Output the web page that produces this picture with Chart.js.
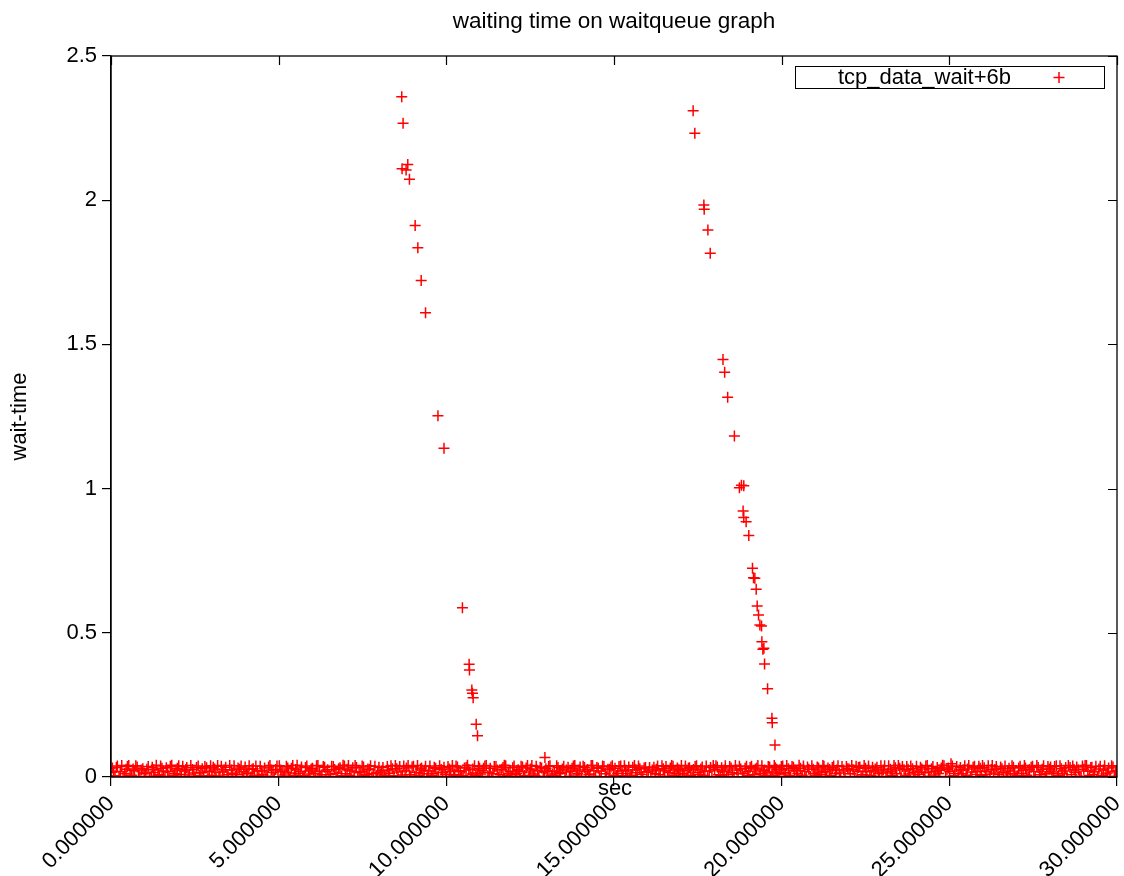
<!DOCTYPE html>
<html>
<head>
<meta charset="utf-8">
<script src="https://cdn.jsdelivr.net/npm/chart.js@4.4.1/dist/chart.umd.min.js"></script>
<style>
  html, body { margin: 0; padding: 0; background: #ffffff; }
  #wrap { width: 1124px; height: 876px; }
</style>
</head>
<body>
<div id="wrap"><canvas id="c" width="1124" height="876"></canvas></div>
<script>
// Waiting time samples of tcp_data_wait+6b on the wait queue (seconds vs wait-time)

const seriesLabel = 'tcp_data_wait+6b';
const chartTitle = 'waiting time on waitqueue graph';
const xAxisTitle = 'sec';
const yAxisTitle = 'wait-time';

const xTicks = [0, 5, 10, 15, 20, 25, 30];
const yTicks = [0, 0.5, 1, 1.5, 2, 2.5];

// First burst of long waits
const burst1Sec = [8.67, 8.71, 8.85, 8.68, 8.80, 8.90, 9.07, 9.15, 9.25, 9.38, 9.75, 9.93,
  10.48, 10.68, 10.69, 10.76, 10.78, 10.80, 10.89, 10.93];
const burst1Wait = [2.359, 2.267, 2.124, 2.109, 2.105, 2.073, 1.912, 1.835, 1.722, 1.610, 1.253, 1.140,
  0.587, 0.391, 0.371, 0.302, 0.290, 0.275, 0.183, 0.143];

// Second burst of long waits
const burst2Sec = [17.36, 17.41, 17.68, 17.69, 17.80, 17.87, 18.25, 18.30, 18.39, 18.59,
  18.80, 18.74, 18.87, 18.85, 18.87, 18.94, 19.02, 19.13, 19.16, 19.20, 19.24, 19.27,
  19.31, 19.35, 19.40, 19.41, 19.44, 19.47, 19.49, 19.58, 19.71, 19.72, 19.80];
const burst2Wait = [2.310, 2.232, 1.983, 1.969, 1.897, 1.816, 1.448, 1.403, 1.317, 1.182,
  1.012, 1.003, 1.010, 0.922, 0.900, 0.885, 0.837, 0.724, 0.691, 0.689, 0.651, 0.593,
  0.562, 0.527, 0.524, 0.469, 0.443, 0.446, 0.392, 0.306, 0.204, 0.188, 0.111];

// Isolated small waits slightly above the floor
const straySec = [12.94];
const strayWait = [0.068];

// Short waits that form the band along zero (first pass)
const floorSec = [
  0.04, 0.12, 0.19, 0.28, 0.36, 0.45, 0.53, 0.61, 0.70, 0.78, 0.86, 0.95,
  1.03, 1.11, 1.20, 1.27, 1.35, 1.44, 1.52, 1.61, 1.69, 1.77, 1.86, 1.94,
  2.02, 2.10, 2.19, 2.26, 2.34, 2.43, 2.51, 2.60, 2.68, 2.76, 2.85, 2.93,
  3.01, 3.09, 3.18, 3.25, 3.33, 3.42, 3.50, 3.59, 3.67, 3.75, 3.84, 3.92,
  4.00, 4.08, 4.17, 4.24, 4.32, 4.41, 4.49, 4.58, 4.66, 4.74, 4.83, 4.91, 4.98,
  5.06, 5.14, 5.23, 5.30, 5.38, 5.47, 5.55, 5.64, 5.72, 5.80, 5.89, 5.97,
  6.05, 6.13, 6.22, 6.29, 6.37, 6.46, 6.54, 6.63, 6.71, 6.79, 6.88, 6.96,
  7.04, 7.12, 7.21, 7.28, 7.36, 7.45, 7.53, 7.62, 7.70, 7.78, 7.87, 7.95,
  8.03, 8.11, 8.20, 8.27, 8.35, 8.44, 8.52, 8.61, 8.69, 8.77, 8.86, 8.94,
  9.02, 9.10, 9.19, 9.26, 9.34, 9.43, 9.51, 9.60, 9.68, 9.76, 9.85, 9.93,
  10.01, 10.09, 10.18, 10.25, 10.33, 10.42, 10.50, 10.59, 10.67, 10.75, 10.84, 10.92, 10.99,
  11.07, 11.15, 11.24, 11.31, 11.39, 11.48, 11.56, 11.65, 11.73, 11.81, 11.90, 11.98,
  12.06, 12.14, 12.23, 12.30, 12.38, 12.47, 12.55, 12.64, 12.72, 12.80, 12.89, 12.97,
  13.05, 13.13, 13.22, 13.29, 13.37, 13.46, 13.54, 13.63, 13.71, 13.79, 13.88, 13.96,
  14.04, 14.12, 14.21, 14.28, 14.36, 14.45, 14.53, 14.62, 14.70, 14.78, 14.87, 14.95,
  15.03, 15.11, 15.20, 15.27, 15.35, 15.44, 15.52, 15.61, 15.69, 15.77, 15.86, 15.94,
  16.02, 16.10, 16.19, 16.26, 16.34, 16.43, 16.51, 16.60, 16.68, 16.76, 16.85, 16.93,
  17.01, 17.09, 17.18, 17.25, 17.33, 17.42, 17.50, 17.59, 17.67, 17.75, 17.84, 17.92,
  18.00, 18.08, 18.17, 18.24, 18.32, 18.41, 18.49, 18.58, 18.66, 18.74, 18.83, 18.91, 18.98,
  19.06, 19.14, 19.22, 19.29, 19.37, 19.45, 19.52, 19.60, 19.67, 19.74, 19.81, 19.88, 19.95,
  20.03, 20.11, 20.20, 20.27, 20.35, 20.44, 20.52, 20.61, 20.69, 20.77, 20.86, 20.94,
  21.02, 21.10, 21.19, 21.26, 21.34, 21.43, 21.51, 21.60, 21.68, 21.76, 21.85, 21.93,
  22.01, 22.09, 22.18, 22.25, 22.33, 22.42, 22.50, 22.59, 22.67, 22.75, 22.84, 22.92, 22.99,
  23.07, 23.15, 23.24, 23.31, 23.39, 23.48, 23.56, 23.65, 23.73, 23.81, 23.90, 23.98,
  24.06, 24.14, 24.23, 24.30, 24.38, 24.47, 24.55, 24.64, 24.72, 24.80, 24.89, 24.97,
  25.05, 25.13, 25.22, 25.29, 25.37, 25.46, 25.54, 25.63, 25.71, 25.79, 25.88, 25.96,
  26.04, 26.12, 26.21, 26.28, 26.36, 26.45, 26.53, 26.62, 26.70, 26.78, 26.87, 26.95,
  27.03, 27.11, 27.20, 27.27, 27.35, 27.44, 27.52, 27.61, 27.69, 27.77, 27.86, 27.94,
  28.02, 28.10, 28.19, 28.26, 28.34, 28.43, 28.51, 28.60, 28.68, 28.76, 28.85, 28.93,
  29.01, 29.09, 29.18, 29.25, 29.33, 29.42, 29.50, 29.59, 29.67, 29.75, 29.84, 29.92, 29.98
];
const floorWait = [
  0.031, 0.004, 0.038, 0.019, 0.002, 0.027, 0.040, 0.006, 0.022, 0.035, 0.001, 0.029,
  0.012, 0.036, 0.003, 0.025, 0.041, 0.008, 0.030, 0.000, 0.018, 0.037, 0.005, 0.024,
  0.039, 0.002, 0.021, 0.033, 0.007, 0.026, 0.000, 0.038, 0.015, 0.004, 0.032, 0.020,
  0.006, 0.028, 0.040, 0.003, 0.017, 0.034, 0.001, 0.024, 0.039, 0.009, 0.027, 0.002,
  0.035, 0.011, 0.000, 0.029, 0.038, 0.005, 0.022, 0.031, 0.003, 0.040, 0.016, 0.026, 0.001,
  0.024, 0.002, 0.037, 0.014, 0.030, 0.006, 0.041, 0.019, 0.000, 0.033, 0.010, 0.028,
  0.003, 0.039, 0.020, 0.008, 0.034, 0.025, 0.001, 0.036, 0.013, 0.029, 0.004, 0.038,
  0.027, 0.006, 0.032, 0.040, 0.002, 0.018, 0.035, 0.009, 0.026, 0.000, 0.037, 0.015,
  0.010, 0.033, 0.001, 0.024, 0.039, 0.004, 0.029, 0.036, 0.007, 0.021, 0.040, 0.002,
  0.037, 0.016, 0.005, 0.031, 0.023, 0.000, 0.038, 0.012, 0.030, 0.003, 0.026, 0.034,
  0.001, 0.028, 0.040, 0.009, 0.035, 0.019, 0.004, 0.033, 0.025, 0.000, 0.039, 0.014, 0.030,
  0.022, 0.038, 0.003, 0.030, 0.011, 0.036, 0.000, 0.027, 0.041, 0.006, 0.020, 0.032,
  0.008, 0.025, 0.037, 0.001, 0.031, 0.017, 0.040, 0.004, 0.023, 0.034, 0.002, 0.029,
  0.036, 0.005, 0.020, 0.039, 0.012, 0.028, 0.000, 0.034, 0.019, 0.038, 0.007, 0.024,
  0.002, 0.033, 0.026, 0.010, 0.040, 0.003, 0.030, 0.021, 0.036, 0.001, 0.027, 0.039,
  0.030, 0.013, 0.038, 0.004, 0.024, 0.035, 0.006, 0.040, 0.015, 0.029, 0.000, 0.033,
  0.019, 0.001, 0.034, 0.027, 0.008, 0.039, 0.022, 0.003, 0.031, 0.037, 0.011, 0.025,
  0.040, 0.007, 0.023, 0.032, 0.000, 0.036, 0.016, 0.028, 0.005, 0.038, 0.021, 0.002,
  0.026, 0.035, 0.004, 0.018, 0.039, 0.009, 0.031, 0.001, 0.024, 0.037, 0.013, 0.030, 0.006,
  0.033, 0.002, 0.028, 0.040, 0.011, 0.021, 0.004, 0.036, 0.000, 0.017, 0.032, 0.003, 0.025,
  0.038, 0.010, 0.029, 0.000, 0.034, 0.022, 0.041, 0.006, 0.019, 0.035, 0.002, 0.027,
  0.005, 0.031, 0.016, 0.037, 0.003, 0.026, 0.033, 0.012, 0.039, 0.001, 0.024, 0.036,
  0.028, 0.040, 0.002, 0.020, 0.035, 0.008, 0.030, 0.038, 0.004, 0.022, 0.034, 0.000, 0.017,
  0.039, 0.014, 0.027, 0.005, 0.032, 0.040, 0.001, 0.025, 0.036, 0.010, 0.029, 0.003,
  0.021, 0.034, 0.000, 0.038, 0.017, 0.029, 0.007, 0.033, 0.023, 0.041, 0.002, 0.031,
  0.046, 0.004, 0.036, 0.024, 0.011, 0.039, 0.028, 0.000, 0.034, 0.018, 0.037, 0.006,
  0.032, 0.020, 0.001, 0.040, 0.026, 0.009, 0.035, 0.015, 0.003, 0.030, 0.039, 0.012,
  0.004, 0.037, 0.023, 0.031, 0.000, 0.034, 0.019, 0.040, 0.008, 0.027, 0.002, 0.036,
  0.035, 0.012, 0.039, 0.006, 0.029, 0.021, 0.001, 0.033, 0.038, 0.016, 0.025, 0.003,
  0.027, 0.040, 0.005, 0.034, 0.018, 0.002, 0.037, 0.024, 0.010, 0.031, 0.039, 0.001, 0.022
];

// Short waits along zero (second pass, interleaved with the first)
const floor2Sec = [
  0.08, 0.16, 0.24, 0.32, 0.41, 0.49, 0.57, 0.66, 0.74, 0.82, 0.91, 0.99,
  1.07, 1.15, 1.23, 1.31, 1.40, 1.48, 1.56, 1.65, 1.73, 1.81, 1.90, 1.98,
  2.06, 2.14, 2.23, 2.30, 2.38, 2.47, 2.55, 2.64, 2.72, 2.80, 2.89, 2.97,
  3.05, 3.13, 3.22, 3.29, 3.37, 3.46, 3.54, 3.63, 3.71, 3.79, 3.88, 3.96,
  4.04, 4.12, 4.21, 4.28, 4.36, 4.45, 4.53, 4.62, 4.70, 4.78, 4.87, 4.95,
  5.02, 5.10, 5.18, 5.27, 5.34, 5.42, 5.51, 5.59, 5.68, 5.76, 5.84, 5.93,
  6.01, 6.09, 6.17, 6.26, 6.33, 6.41, 6.50, 6.58, 6.67, 6.75, 6.83, 6.92, 6.99,
  7.08, 7.16, 7.25, 7.32, 7.40, 7.49, 7.57, 7.66, 7.74, 7.82, 7.91, 7.99,
  8.07, 8.15, 8.24, 8.31, 8.39, 8.48, 8.56, 8.65, 8.73, 8.81, 8.90, 8.98,
  9.06, 9.14, 9.23, 9.30, 9.38, 9.47, 9.55, 9.64, 9.72, 9.80, 9.89, 9.97,
  10.05, 10.13, 10.22, 10.29, 10.37, 10.46, 10.54, 10.63, 10.71, 10.79, 10.88, 10.96,
  11.03, 11.11, 11.19, 11.28, 11.35, 11.43, 11.52, 11.60, 11.69, 11.77, 11.85, 11.94,
  12.02, 12.10, 12.18, 12.27, 12.34, 12.42, 12.51, 12.59, 12.68, 12.76, 12.84, 12.93,
  13.01, 13.09, 13.17, 13.26, 13.33, 13.41, 13.50, 13.58, 13.67, 13.75, 13.83, 13.92, 13.99,
  14.08, 14.16, 14.25, 14.32, 14.40, 14.49, 14.57, 14.66, 14.74, 14.82, 14.91, 14.99,
  15.07, 15.15, 15.24, 15.31, 15.39, 15.48, 15.56, 15.65, 15.73, 15.81, 15.90, 15.98,
  16.06, 16.14, 16.23, 16.30, 16.38, 16.47, 16.55, 16.64, 16.72, 16.80, 16.89, 16.97,
  17.05, 17.13, 17.22, 17.29, 17.37, 17.46, 17.54, 17.63, 17.71, 17.79, 17.88, 17.96,
  18.04, 18.12, 18.21, 18.28, 18.36, 18.45, 18.53, 18.62, 18.70, 18.78, 18.87, 18.95,
  19.02, 19.10, 19.18, 19.26, 19.33, 19.41, 19.49, 19.56, 19.64, 19.71, 19.78, 19.85, 19.92, 19.99,
  20.07, 20.15, 20.24, 20.31, 20.39, 20.48, 20.56, 20.65, 20.73, 20.81, 20.90, 20.98,
  21.06, 21.14, 21.23, 21.30, 21.38, 21.47, 21.55, 21.64, 21.72, 21.80, 21.89, 21.97,
  22.05, 22.13, 22.22, 22.29, 22.37, 22.46, 22.54, 22.63, 22.71, 22.79, 22.88, 22.96,
  23.03, 23.11, 23.19, 23.28, 23.35, 23.43, 23.52, 23.60, 23.69, 23.77, 23.85, 23.94,
  24.02, 24.10, 24.18, 24.27, 24.34, 24.42, 24.51, 24.59, 24.68, 24.76, 24.84, 24.93,
  25.01, 25.09, 25.17, 25.26, 25.33, 25.41, 25.50, 25.58, 25.67, 25.75, 25.83, 25.92, 25.99,
  26.08, 26.16, 26.25, 26.32, 26.40, 26.49, 26.57, 26.66, 26.74, 26.82, 26.91, 26.99,
  27.07, 27.15, 27.24, 27.31, 27.39, 27.48, 27.56, 27.65, 27.73, 27.81, 27.90, 27.98,
  28.06, 28.14, 28.23, 28.30, 28.38, 28.47, 28.55, 28.64, 28.72, 28.80, 28.89, 28.97,
  29.05, 29.13, 29.22, 29.29, 29.37, 29.46, 29.54, 29.63, 29.71, 29.79, 29.88, 29.95
];
const floor2Wait = [
  0.018, 0.033, 0.001, 0.040, 0.012, 0.036, 0.005, 0.028, 0.039, 0.002, 0.024, 0.014,
  0.027, 0.000, 0.034, 0.016, 0.006, 0.038, 0.021, 0.032, 0.003, 0.041, 0.011, 0.030,
  0.009, 0.037, 0.026, 0.001, 0.040, 0.014, 0.033, 0.005, 0.029, 0.036, 0.000, 0.039,
  0.034, 0.016, 0.003, 0.037, 0.025, 0.008, 0.040, 0.013, 0.002, 0.031, 0.038, 0.019,
  0.014, 0.039, 0.027, 0.005, 0.021, 0.037, 0.009, 0.002, 0.035, 0.024, 0.000, 0.038,
  0.039, 0.018, 0.007, 0.031, 0.001, 0.040, 0.026, 0.012, 0.035, 0.004, 0.038, 0.021,
  0.030, 0.013, 0.040, 0.002, 0.036, 0.019, 0.008, 0.037, 0.026, 0.001, 0.032, 0.041, 0.011,
  0.040, 0.021, 0.002, 0.033, 0.015, 0.038, 0.006, 0.028, 0.039, 0.012, 0.003, 0.034,
  0.022, 0.005, 0.036, 0.013, 0.029, 0.040, 0.017, 0.002, 0.038, 0.031, 0.008, 0.035,
  0.003, 0.040, 0.028, 0.011, 0.037, 0.021, 0.006, 0.034, 0.001, 0.039, 0.016, 0.009,
  0.036, 0.019, 0.005, 0.038, 0.022, 0.002, 0.031, 0.041, 0.010, 0.028, 0.006, 0.037,
  0.010, 0.030, 0.040, 0.016, 0.001, 0.036, 0.024, 0.008, 0.033, 0.039, 0.013, 0.003,
  0.038, 0.013, 0.020, 0.035, 0.005, 0.040, 0.028, 0.010, 0.037, 0.002, 0.031, 0.017,
  0.021, 0.039, 0.010, 0.004, 0.033, 0.016, 0.037, 0.024, 0.003, 0.030, 0.040, 0.012, 0.035,
  0.037, 0.019, 0.008, 0.040, 0.022, 0.033, 0.001, 0.038, 0.011, 0.027, 0.035, 0.006,
  0.005, 0.036, 0.021, 0.039, 0.012, 0.002, 0.034, 0.025, 0.038, 0.009, 0.031, 0.018,
  0.033, 0.024, 0.011, 0.038, 0.002, 0.029, 0.036, 0.016, 0.040, 0.006, 0.031, 0.021,
  0.013, 0.038, 0.030, 0.004, 0.026, 0.039, 0.009, 0.035, 0.020, 0.001, 0.033, 0.040,
  0.039, 0.008, 0.032, 0.024, 0.002, 0.036, 0.015, 0.040, 0.011, 0.028, 0.001, 0.037,
  0.020, 0.037, 0.009, 0.031, 0.002, 0.039, 0.024, 0.014, 0.035, 0.006, 0.040, 0.027, 0.011, 0.036,
  0.016, 0.040, 0.004, 0.036, 0.023, 0.011, 0.030, 0.038, 0.002, 0.027, 0.039, 0.012,
  0.035, 0.009, 0.040, 0.020, 0.031, 0.005, 0.038, 0.024, 0.014, 0.036, 0.002, 0.029,
  0.011, 0.025, 0.037, 0.033, 0.003, 0.040, 0.018, 0.006, 0.034, 0.028, 0.012, 0.039,
  0.024, 0.002, 0.039, 0.018, 0.040, 0.011, 0.030, 0.036, 0.005, 0.027, 0.038, 0.016,
  0.037, 0.009, 0.028, 0.015, 0.040, 0.003, 0.036, 0.020, 0.012, 0.031, 0.039, 0.025,
  0.019, 0.038, 0.012, 0.001, 0.033, 0.025, 0.006, 0.040, 0.017, 0.037, 0.009, 0.030, 0.040,
  0.008, 0.039, 0.026, 0.014, 0.036, 0.002, 0.029, 0.038, 0.021, 0.010, 0.034, 0.003,
  0.031, 0.012, 0.040, 0.006, 0.026, 0.037, 0.002, 0.033, 0.018, 0.039, 0.011, 0.028,
  0.017, 0.036, 0.003, 0.039, 0.011, 0.033, 0.040, 0.008, 0.026, 0.035, 0.002, 0.038,
  0.040, 0.020, 0.033, 0.009, 0.037, 0.028, 0.004, 0.039, 0.014, 0.003, 0.035, 0.019
];

function toPoints(xs, ys) {
  return xs.map((x, i) => ({ x: x, y: ys[i] }));
}

const samples = []
  .concat(toPoints(floorSec, floorWait))
  .concat(toPoints(floor2Sec, floor2Wait))
  .concat(toPoints(straySec, strayWait))
  .concat(toPoints(burst1Sec, burst1Wait))
  .concat(toPoints(burst2Sec, burst2Wait));

const FONT = '"Liberation Sans", Arial, sans-serif';
const RED = '#ff0000';

// Title, axis captions, mirrored ticks and the framed key
const decorations = {
  id: 'decorations',
  afterDraw(chart) {
    const ctx = chart.ctx;
    const a = chart.chartArea;
    const xs = chart.scales.x, ys = chart.scales.y;
    ctx.save();

    // frame
    ctx.strokeStyle = '#000';
    ctx.lineWidth = 1.3;
    ctx.strokeRect(a.left, a.top, a.right - a.left, a.bottom - a.top);

    // mirrored ticks on right and top edges
    ctx.lineWidth = 1.2;
    ctx.beginPath();
    yTicks.forEach(v => {
      const y = Math.round(ys.getPixelForValue(v)) + 0.5;
      ctx.moveTo(a.right, y); ctx.lineTo(a.right - 9, y);
    });
    xTicks.forEach(v => {
      const x = Math.round(xs.getPixelForValue(v)) + 0.5;
      ctx.moveTo(x, a.top); ctx.lineTo(x, a.top + 9);
    });
    ctx.stroke();

    ctx.fillStyle = '#000';
    // title
    ctx.font = '22.5px ' + FONT;
    ctx.textAlign = 'center';
    ctx.textBaseline = 'middle';
    ctx.fillText(chartTitle, (a.left + a.right) / 2, 22);

    // x caption
    ctx.font = '22px ' + FONT;
    ctx.fillText(xAxisTitle, (a.left + a.right) / 2 + 1, a.bottom + 12);

    // y caption
    ctx.save();
    ctx.translate(20, (a.top + a.bottom) / 2);
    ctx.rotate(-Math.PI / 2);
    ctx.fillText(yAxisTitle, 0, 0);
    ctx.restore();

    // key box
    const bx = a.right - 322, by = a.top + 10, bw = 309, bh = 22;
    ctx.lineWidth = 1;
    ctx.strokeStyle = '#000';
    ctx.strokeRect(bx + 0.5, by + 0.5, bw, bh);
    ctx.textAlign = 'right';
    ctx.font = '22px ' + FONT;
    ctx.fillText(seriesLabel, bx + 216, by + bh / 2 + 1);
    ctx.strokeStyle = RED;
    ctx.lineWidth = 1.5;
    const cx = bx + 264, cy = by + bh / 2 + 0.5;
    ctx.beginPath();
    ctx.moveTo(cx - 5.5, cy); ctx.lineTo(cx + 5.5, cy);
    ctx.moveTo(cx, cy - 5.5); ctx.lineTo(cx, cy + 5.5);
    ctx.stroke();

    ctx.restore();
  }
};

new Chart(document.getElementById('c'), {
  type: 'scatter',
  data: {
    datasets: [{
      label: seriesLabel,
      data: samples,
      pointStyle: 'cross',
      pointRadius: 5.5,
      pointHoverRadius: 5.5,
      pointBorderWidth: 1.5,
      borderColor: RED,
      backgroundColor: RED
    }]
  },
  options: {
    responsive: false,
    animation: false,
    devicePixelRatio: 1,
    layout: { padding: { top: 56, right: 2, left: 0, bottom: 0 } },
    plugins: {
      legend: { display: false },
      title: { display: false },
      tooltip: { enabled: false }
    },
    scales: {
      x: {
        type: 'linear',
        min: 0,
        max: 30,
        afterBuildTicks(scale) { scale.ticks = xTicks.map(v => ({ value: v })); },
        afterFit(scale) { scale.height = 99; scale.paddingLeft = 0; scale.paddingRight = 0; },
        ticks: {
          maxRotation: 45,
          minRotation: 45,
          autoSkip: false,
          padding: 5,
          color: '#000',
          font: { family: FONT, size: 22 },
          callback: v => Number(v).toFixed(6)
        },
        grid: { drawOnChartArea: false, drawTicks: true, tickLength: 9, color: '#000', lineWidth: 1.2 },
        border: { display: true, color: '#000', width: 1.3 }
      },
      y: {
        type: 'linear',
        min: 0,
        max: 2.5,
        afterBuildTicks(scale) { scale.ticks = yTicks.map(v => ({ value: v })); },
        afterFit(scale) { scale.width = 111; scale.paddingTop = 0; scale.paddingBottom = 0; },
        ticks: {
          padding: 5,
          color: '#000',
          font: { family: FONT, size: 22 },
          callback: v => String(v)
        },
        grid: { drawOnChartArea: false, drawTicks: true, tickLength: 9, color: '#000', lineWidth: 1.2 },
        border: { display: true, color: '#000', width: 1.3 }
      }
    }
  },
  plugins: [decorations]
});
</script>
</body>
</html>
